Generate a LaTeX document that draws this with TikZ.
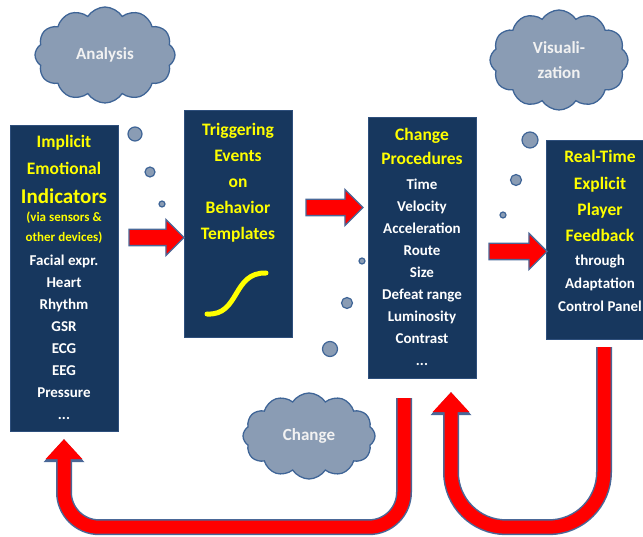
\documentclass[tikz,border=0pt]{standalone}
\usepackage{fontspec}
\setmainfont{Carlito}
\usetikzlibrary{shapes.symbols,shapes.arrows,arrows.meta}

\definecolor{boxnavy}{HTML}{17375E}
\definecolor{boxedge}{HTML}{2E4F7C}
\definecolor{headyellow}{HTML}{FFFF00}
\definecolor{cloudgrey}{HTML}{8A9CB4}
\definecolor{cloudedge}{HTML}{3F6597}
\definecolor{cloudtext}{HTML}{F2F2F2}
\definecolor{arrowred}{HTML}{FF0000}
\definecolor{arrowedge}{HTML}{4A6898}

\newcommand{\headline}{\color{headyellow}\fontsize{17.5}{22}\selectfont}

\begin{document}
\begin{tikzpicture}[x=1pt, y=-1pt,
    stage/.style={draw=boxedge, fill=boxnavy, rectangle, minimum width=108pt, inner sep=0},
    stagetext/.style={anchor=north, align=center, inner sep=0, text=white, font=\bfseries\fontsize{15}{22}\selectfont},
    thought/.style={cloud, cloud puffs=12, cloud puff arc=115, cloud ignores aspect, draw=cloudedge, fill=cloudgrey, line width=1.3pt, text=cloudtext, font=\bfseries\fontsize{17}{25}\selectfont, align=center, inner sep=0},
    bubble/.style={circle, draw=cloudedge, fill=cloudgrey, line width=1.2pt, inner sep=0},
    flow/.style={single arrow, single arrow head extend=10pt, minimum width=35pt, draw=arrowedge, fill=arrowred, line width=1.3pt, inner xsep=0, inner ysep=7.5pt},
    loopback/.style={line width=13pt, arrowred, rounded corners=#1, -{Triangle[width=37pt,length=20pt,line width=0pt]}, preaction={draw=arrowedge, line width=16pt, -{Triangle[width=41pt,length=23pt,line width=0pt]}}}]

    \useasboundingbox (0,0) rectangle (643,537);

    \node[stage, minimum height=306pt] (ind) at (64,278) {};
    \node[stage, minimum height=227pt] (trig) at (238,223.5) {};
    \node[stage, minimum height=261pt] (chg) at (422,247.5) {};
    \node[stage, minimum height=199pt] (fb) at (600,239.5) {};

    \node[stagetext] (indtext) at (64,135) {{\headline Implicit}\\[5pt] {\headline Emotional}\\[7pt] {\headline\fontsize{21}{22}\selectfont Indicators}\\[-4pt] {\headline\fontsize{13}{22}\selectfont (via sensors \&}\\[-2pt] {\headline\fontsize{13}{22}\selectfont other devices)}\\[2pt] Facial expr.\\ Heart\\ Rhythm\\ GSR\\ ECG\\ EEG\\ Pressure\\ ...};
    \node[stagetext, font=\bfseries\fontsize{17.5}{26}\selectfont, text=headyellow] (trigtext) at (238,123) {Triggering\\ Events\\ on\\ Behavior\\ Templates};
    \node[stagetext] (chgtext) at (422,128) {{\headline Change}\\[2pt] {\headline Procedures}\\[3pt] Time\\ Velocity\\ Acceleration\\ Route\\ Size\\ Defeat range\\ Luminosity\\ Contrast\\ ...};
    \node[stagetext, font=\bfseries\fontsize{15}{23}\selectfont] (fbtext) at (600,150) {{\headline Real-Time}\\[4pt] {\headline Explicit}\\[3pt] {\headline Player}\\[3pt] {\headline Feedback}\\[1pt] through\\ Adaptation\\ Control Panel};

    \draw[headyellow, line width=5pt, line cap=round] (207,314) .. controls (240,316) and (232,272) .. (266,273);

    \node[flow, minimum height=55pt] (a1) at (152.5,237.5) {};
    \node[flow, minimum height=57pt] (a2) at (330.5,207.5) {};
    \node[flow, minimum height=58pt] (a3) at (514,251.5) {};

    \node[thought, minimum width=140pt, minimum height=96pt] (analysis) at (105,55) {Analysis};
    \node[thought, minimum width=138pt, minimum height=100pt] (visual) at (559,60) {Visuali-\\zation};
    \node[thought, minimum width=132pt, minimum height=86pt] (change) at (309,436) {Change};

    \node[bubble, minimum size=14pt] (b1) at (135,134) {};
    \node[bubble, minimum size=10pt] (b2) at (150,172) {};
    \node[bubble, minimum size=6pt] (b3) at (162,204) {};
    \node[bubble, minimum size=6pt] (b4) at (362,261) {};
    \node[bubble, minimum size=11pt] (b5) at (347,303) {};
    \node[bubble, minimum size=15pt] (b6) at (330,349) {};
    \node[bubble, minimum size=16pt] (b7) at (530,140) {};
    \node[bubble, minimum size=11pt] (b8) at (516,180) {};
    \node[bubble, minimum size=6pt] (b9) at (503,215) {};

    \draw[loopback=35pt] ([xshift=-18pt,yshift=-20pt]chg.south) -- ++(0,129) -| ([yshift=-8pt]ind.south);
    \draw[loopback=55pt] ([xshift=4pt,yshift=-8pt]fb.south) -- ++(0,180) -| ([xshift=29pt,yshift=-14pt]chg.south);
\end{tikzpicture}
\end{document}
